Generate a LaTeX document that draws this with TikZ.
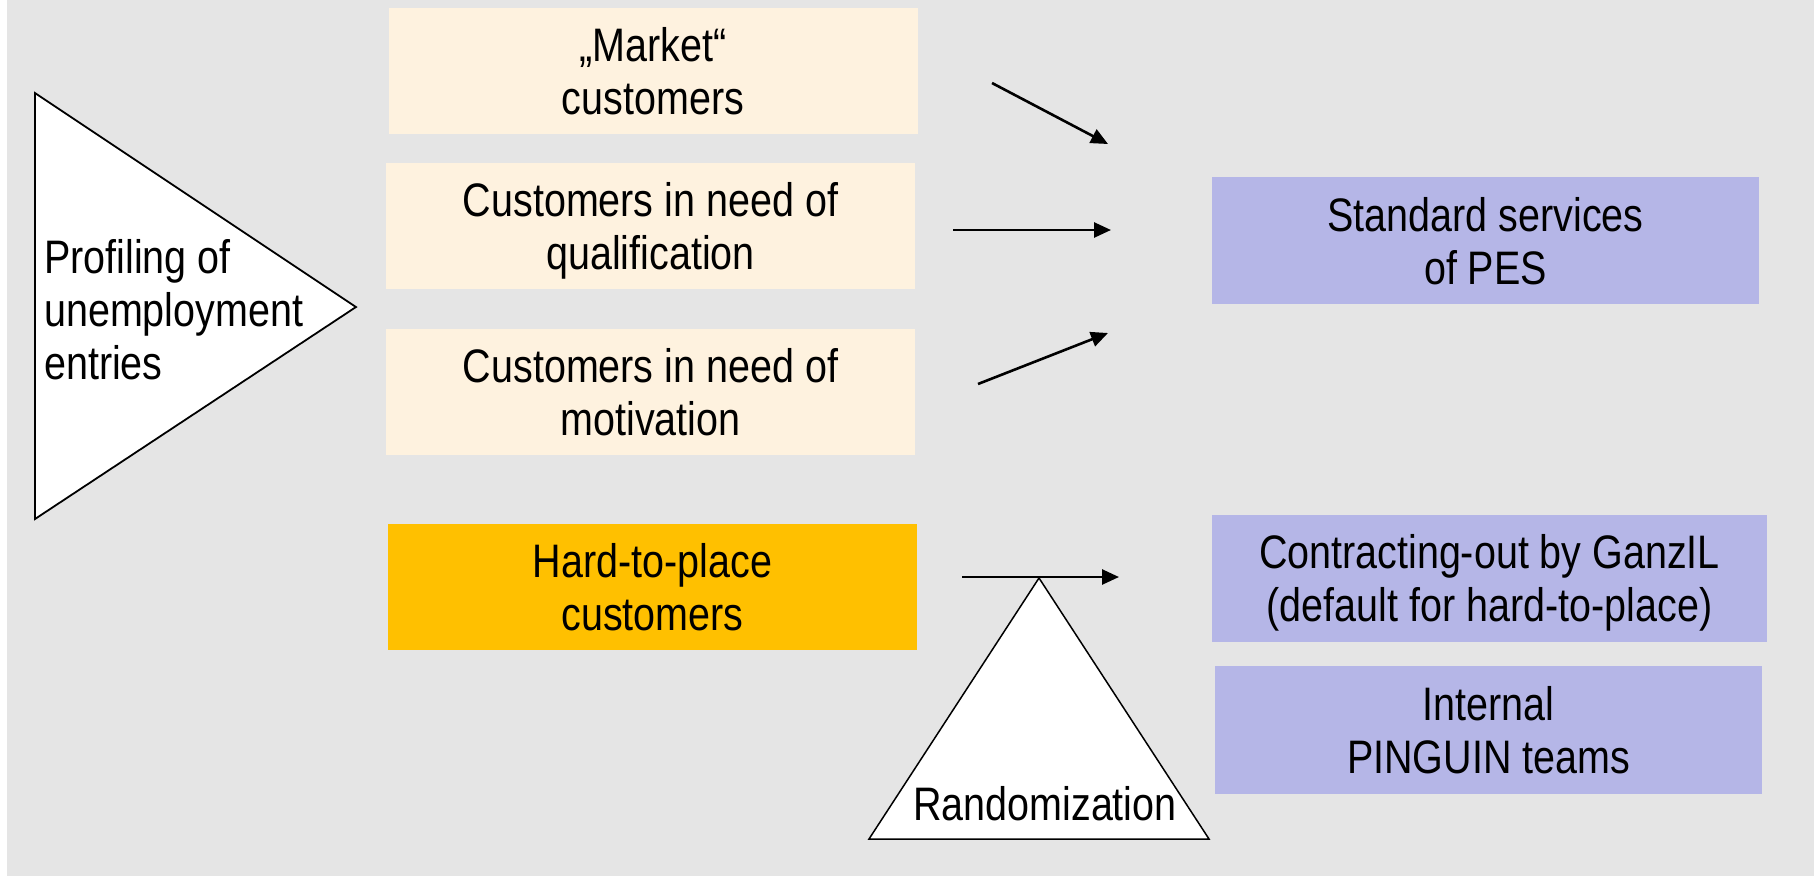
\documentclass[tikz,border=0pt]{standalone}
\usepackage{fontspec}
\setmainfont[FakeStretch=0.84]{Liberation Sans}
\usetikzlibrary{arrows.meta}
\definecolor{bggray}{HTML}{E5E5E5}
\definecolor{cream}{HTML}{FEF2DF}
\definecolor{lavender}{HTML}{B5B6E7}
\definecolor{amber}{HTML}{FFC000}
\begin{document}
\begin{tikzpicture}[x=1pt,y=-1pt,
  txt/.style={font=\fontsize{47}{53}\selectfont, align=center, text depth=0pt},
  group/.style={txt, fill=cream, minimum width=529pt, minimum height=126pt, inner sep=0pt},
  service/.style={txt, fill=lavender, minimum height=127pt, inner sep=0pt},
  flow/.style={line width=2.6pt, -{Triangle[length=17pt,width=15pt]}},
  wedge/.style={fill=white, draw=black, line join=miter}]
  % canvas
  \useasboundingbox (0,0) rectangle (1814,876);
  \fill[white] (0,0) rectangle (1814,876);
  \fill[bggray] (7,0) rectangle (1814,876);

  % profiling wedge
  \coordinate (pA) at (35,93);
  \coordinate (pB) at (35,519);
  \coordinate (pC) at (356,307);
  \draw[wedge, line width=1.8pt] (pA) -- (pC) -- (pB) -- cycle;
  \node[txt, align=left, anchor=base west, inner sep=0pt] (prof) at (44,379)
    {Profiling of\\unemployment\\entries};

  % customer groups
  \node[group] (market) at (653,71) {„Market“\\customers};
  \node[group] (qual) at (650.5,226) {Customers in need of\\qualification};
  \node[group] (motiv) at (650.5,392) {Customers in need of\\motivation};
  \node[group, fill=amber] (hard) at (652.5,586.5) {Hard-to-place\\customers};

  % services
  \node[service, minimum width=547pt] (std) at (1485.5,240.5) {Standard services\\of PES};
  \node[service, minimum width=555pt] (contr) at (1489.5,578) {Contracting-out by GanzIL\\(default for hard-to-place)};
  \node[service, minimum width=547pt, minimum height=128pt] (intern) at (1488.5,730) {Internal\\PINGUIN teams};

  % randomization wedge
  \coordinate (rTop) at (1039,578);
  \coordinate (rL) at (869,839);
  \coordinate (rR) at (1209,839);
  \draw[wedge, line width=1.5pt] (rTop) -- (rR) -- (rL) -- cycle;
  \node[txt, anchor=base, inner sep=0pt] (rand) at (1045,820) {Randomization};

  % arrows
  \coordinate (a1s) at (992,83);   \coordinate (a1e) at (1108,144);
  \coordinate (a2s) at (953,230);  \coordinate (a2e) at (1111,230);
  \coordinate (a3s) at (978,384);  \coordinate (a3e) at (1108,333);
  \coordinate (a4s) at (962,577);  \coordinate (a4e) at (1119,577);
  \draw[flow] (a1s) -- (a1e);
  \draw[flow] (a2s) -- (a2e);
  \draw[flow] (a3s) -- (a3e);
  \draw[flow] (a4s) -- (a4e);
\end{tikzpicture}
\end{document}
